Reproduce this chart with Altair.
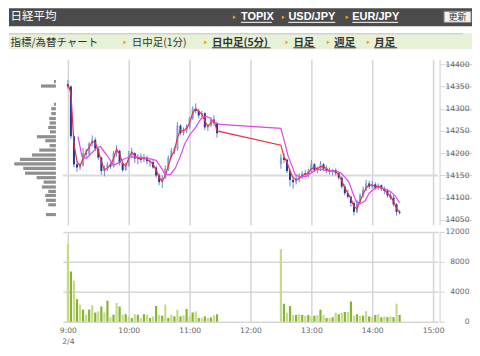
import altair as alt
import pandas as pd

# ---------------- data ----------------
# 3-minute candles, morning session 9:00-11:27 and afternoon 12:30-14:27
am_open = [14355, 14350, 14238, 14175, 14168, 14172, 14200, 14198, 14222, 14230,
           14210, 14190, 14160, 14165, 14175, 14170, 14200, 14205, 14178, 14162,
           14172, 14195, 14200, 14188, 14192, 14185, 14190, 14182, 14180, 14168,
           14150, 14135, 14145, 14165, 14190, 14205, 14210, 14262, 14245, 14250,
           14258, 14278, 14300, 14295, 14285, 14290, 14258, 14262, 14275, 14268]
am_high = [14365, 14352, 14240, 14182, 14178, 14212, 14210, 14225, 14240, 14235,
           14212, 14192, 14172, 14180, 14180, 14205, 14218, 14208, 14180, 14178,
           14205, 14212, 14202, 14198, 14200, 14198, 14195, 14188, 14185, 14172,
           14155, 14150, 14172, 14195, 14212, 14215, 14270, 14265, 14258, 14265,
           14282, 14305, 14312, 14300, 14295, 14292, 14265, 14280, 14285, 14270]
am_low = [14345, 14232, 14168, 14158, 14162, 14170, 14190, 14196, 14215, 14205,
          14185, 14152, 14148, 14160, 14165, 14168, 14192, 14172, 14158, 14160,
          14170, 14188, 14178, 14175, 14178, 14180, 14175, 14170, 14165, 14145,
          14128, 14122, 14142, 14160, 14188, 14198, 14205, 14240, 14240, 14245,
          14255, 14275, 14290, 14278, 14280, 14252, 14250, 14258, 14262, 14235]
am_close = [14350, 14238, 14175, 14168, 14172, 14200, 14198, 14222, 14230, 14210,
            14190, 14160, 14165, 14175, 14170, 14200, 14205, 14178, 14162, 14172,
            14195, 14200, 14188, 14192, 14185, 14190, 14182, 14180, 14168, 14150,
            14135, 14145, 14165, 14190, 14205, 14210, 14262, 14245, 14250, 14258,
            14278, 14300, 14295, 14285, 14290, 14258, 14262, 14275, 14268, 14245]

pm_open = [14175, 14190, 14185, 14160, 14140, 14135, 14145, 14148, 14155, 14152,
           14160, 14175, 14162, 14165, 14175, 14165, 14160, 14158, 14162, 14155,
           14145, 14125, 14110, 14102, 14088, 14068, 14090, 14105, 14118, 14132,
           14125, 14130, 14122, 14128, 14120, 14115, 14105, 14100, 14085, 14068]
pm_high = [14198, 14200, 14188, 14165, 14148, 14152, 14155, 14160, 14162, 14165,
           14185, 14178, 14170, 14182, 14178, 14172, 14168, 14165, 14166, 14158,
           14148, 14130, 14118, 14105, 14092, 14095, 14110, 14125, 14140, 14138,
           14138, 14135, 14132, 14130, 14125, 14120, 14112, 14105, 14088, 14072]
pm_low = [14165, 14178, 14155, 14125, 14120, 14130, 14135, 14142, 14148, 14145,
          14158, 14158, 14155, 14160, 14160, 14155, 14152, 14150, 14150, 14140,
          14120, 14105, 14098, 14080, 14060, 14065, 14088, 14100, 14115, 14120,
          14120, 14118, 14118, 14115, 14108, 14100, 14095, 14080, 14060, 14062]
pm_close = [14190, 14185, 14160, 14140, 14135, 14145, 14148, 14155, 14152, 14160,
            14175, 14162, 14165, 14175, 14165, 14160, 14158, 14162, 14155, 14145,
            14125, 14110, 14102, 14088, 14068, 14090, 14105, 14118, 14132, 14125,
            14130, 14122, 14128, 14120, 14115, 14105, 14100, 14085, 14068, 14066]

# short moving average (red), one value per candle
am_ma_short = [14355, 14336, 14220, 14182, 14171, 14188, 14203, 14213, 14226, 14224,
               14205, 14182, 14162, 14167, 14173, 14188, 14209, 14198, 14177, 14171,
               14188, 14203, 14194, 14188, 14188, 14190, 14186, 14182, 14175, 14162,
               14145, 14137, 14150, 14171, 14194, 14205, 14235, 14252, 14250, 14256,
               14268, 14290, 14300, 14294, 14288, 14273, 14260, 14268, 14275, 14250]
pm_ma_short = [14218, 14192, 14180, 14160, 14145, 14140, 14143, 14150, 14153, 14155,
               14165, 14168, 14165, 14170, 14170, 14165, 14160, 14160, 14158, 14152,
               14138, 14122, 14110, 14098, 14080, 14075, 14092, 14108, 14122, 14128,
               14128, 14126, 14125, 14123, 14118, 14110, 14103, 14092, 14075, 14068]

# long moving average (magenta)
ma_long_times = ["9:10", "9:14", "9:18", "9:22", "9:29", "9:32", "9:38", "9:45", "9:49",
                 "9:56", "10:04", "10:13", "10:20", "10:27", "10:31", "10:36", "10:41",
                 "10:46", "10:51", "10:55", "11:00", "11:06", "11:11", "11:16", "11:20",
                 "11:25", "11:30",
                 "12:30", "12:34", "12:37", "12:41", "12:44", "12:49", "12:55", "13:00",
                 "13:05", "13:11", "13:17", "13:24", "13:29", "13:33", "13:37", "13:41",
                 "13:44", "13:48", "13:53", "13:57", "14:02", "14:07", "14:12", "14:18",
                 "14:23", "14:27"]
ma_long = [14237, 14192, 14188, 14197, 14213, 14215, 14197, 14173, 14177,
           14188, 14192, 14190, 14188, 14184, 14171, 14152, 14152,
           14167, 14194, 14220, 14241, 14258, 14277, 14283, 14279,
           14268, 14265,
           14256, 14222, 14194, 14171, 14152, 14146, 14148, 14156,
           14163, 14163, 14160, 14160, 14156, 14146, 14135, 14110,
           14093, 14086, 14093, 14110, 14120, 14124, 14120, 14114,
           14103, 14088]

# volume per candle
am_volume = [10400, 6700, 5470, 3000, 2270, 1600, 930, 1600, 2200, 1240,
             1380, 2040, 1240, 2800, 600, 930, 2500, 2040, 930, 1000,
             710, 490, 1000, 930, 490, 1000, 930, 490, 710, 2100,
             930, 800, 2300, 490, 930, 710, 1600, 710, 850, 1700,
             710, 1240, 1380, 490, 490, 710, 490, 560, 850, 1000]
pm_volume = [9700, 2400, 1200, 2100, 900, 900, 1000, 900, 800, 900,
             700, 800, 900, 1600, 900, 500, 500, 600, 1200, 1000,
             1200, 1300, 1300, 2700, 800, 1000, 800, 800, 1400, 700,
             600, 900, 1000, 600, 700, 600, 700, 600, 2400, 900]

# volume-by-price profile (relative lengths)
profile_price = [14361, 14351, 14310, 14300, 14289, 14278, 14268, 14258, 14248, 14237,
                 14228, 14217, 14207, 14196, 14186, 14176, 14166, 14155, 14145, 14135,
                 14124, 14114, 14105, 14094, 14084, 14062]
profile_volume = [2, 15, 2, 4.7, 4.7, 6.7, 6.3, 7.7, 6, 19,
                  10.7, 6.3, 16.7, 24, 36, 41.7, 32.7, 31, 19.3, 12.3,
                  14, 7.7, 10.7, 10, 7.7, 10]

prev_close = 14150
price_ticks = [14050, 14100, 14150, 14200, 14250, 14300, 14350, 14400]
volume_ticks = [0, 4000, 8000, 12000]
hour_labels = ["9:00", "10:00", "11:00", "12:00", "13:00", "14:00", "15:00"]
date_label = "2/4"

# ---------------- helpers ----------------
def to_min(s):
    h, m = s.split(":")
    return (int(h) - 9) * 60 + int(m)

candle_times = [f"{9 + m // 60}:{m % 60:02d}" for m in list(range(0, 150, 3)) + list(range(210, 330, 3))]
t_candle = [to_min(s) for s in candle_times]
o = am_open + pm_open
h = am_high + pm_high
l = am_low + pm_low
c = am_close + pm_close
candles = pd.DataFrame({"t": t_candle, "o": o, "h": h, "l": l, "c": c,
                        "dir": ["up" if cc >= oo else "down" for oo, cc in zip(o, c)]})
ma_s = pd.DataFrame({"t": t_candle, "v": am_ma_short + pm_ma_short})
ma_l = pd.DataFrame({"t": [to_min(s) for s in ma_long_times], "v": ma_long})
vols = am_volume + pm_volume
vol_df = pd.DataFrame({"t": t_candle, "v": vols,
                       "shade": ["a" if i % 2 == 0 else "b" for i in range(len(vols))]})
prof_df = pd.DataFrame({"level": profile_price, "vol": profile_volume})
hour_vals = [to_min(s) for s in hour_labels]

GRID = "#d6d6d6"
W, HP, HV = 376, 166, 90
JP = "Noto Sans CJK JP"

SX = alt.Scale(domain=[0, 360], nice=False, zero=False)
SY = alt.Scale(domain=[14050, 14400], nice=False, zero=False)
AX_X_PRICE = alt.Axis(values=hour_vals, labels=False, ticks=False, domain=False, title=None, grid=True)
AX_Y_PRICE = alt.Axis(orient="right", values=price_ticks, title=None, grid=True, tickSize=5, format="d",
                      domain=True, domainColor="#cfcfcf", offset=1.5, labelAlign="right",
                      labelPadding=24.5, labelFlush=False)

x_enc = alt.X("t:Q", scale=SX, axis=AX_X_PRICE)

prev_rule = alt.Chart(pd.DataFrame({"p": [prev_close]})).mark_rule(color="#dadada", strokeWidth=2).encode(
    y=alt.Y("p:Q", scale=SY, axis=AX_Y_PRICE))
wicks = alt.Chart(candles).mark_rule(color="#6a8ad0", strokeWidth=1).encode(
    x=x_enc, y=alt.Y("l:Q", scale=SY, axis=AX_Y_PRICE), y2="h:Q")
bodies = alt.Chart(candles).mark_bar(size=2).encode(
    x=x_enc, y=alt.Y("o:Q", scale=SY, axis=AX_Y_PRICE), y2="c:Q",
    color=alt.Color("dir:N", scale=alt.Scale(domain=["up", "down"], range=["#7f9fdc", "#24358f"]), legend=None))
red_line = alt.Chart(ma_s).mark_line(color="#e8304a", strokeWidth=1.2).encode(
    x=x_enc, y=alt.Y("v:Q", scale=SY, axis=AX_Y_PRICE))
mag_line = alt.Chart(ma_l).mark_line(color="#e244ee", strokeWidth=1.2).encode(
    x=x_enc, y=alt.Y("v:Q", scale=SY, axis=AX_Y_PRICE))

price_inner = alt.layer(prev_rule, wicks, bodies, red_line, mag_line)

profile = alt.Chart(prof_df).mark_bar(orient="horizontal", size=3.2, color="#8f8f8f").encode(
    x=alt.X("vol:Q", scale=alt.Scale(domain=[0, 47], range=[-7, -54], nice=False, zero=True), axis=None),
    y=alt.Y("level:Q", scale=SY, axis=AX_Y_PRICE))

price = alt.layer(profile, price_inner).resolve_scale(x="independent").properties(width=W, height=HP)

label_expr = ("datum.value == 0 ? ['" + hour_labels[0] + "', '" + date_label + "'] : "
              "(9 + datum.value / 60) + ':00'")
volume = alt.Chart(vol_df).mark_bar(size=2.2).encode(
    x=alt.X("t:Q", scale=SX, axis=alt.Axis(values=hour_vals, labelExpr=label_expr, ticks=False, tickSize=0,
                                           domain=False, title=None, grid=True, labelPadding=5,
                                           labelFlush=False, labelLineHeight=10.6)),
    y=alt.Y("v:Q", scale=alt.Scale(domain=[0, 12000], nice=False),
            axis=alt.Axis(orient="right", values=volume_ticks, title=None, grid=True, tickSize=5, format="d",
                          domain=True, domainColor="#cfcfcf", offset=1.5, labelAlign="right",
                          labelPadding=24.5, labelFlush=False)),
    color=alt.Color("shade:N", scale=alt.Scale(domain=["a", "b"], range=["#c4dc8a", "#86b52a"]), legend=None),
).properties(width=W, height=HV)

# ---------------- header (decoration) ----------------
def rect(x1, x2, y1, y2, fill, stroke=None):
    kw = {"fill": fill}
    if stroke:
        kw.update(stroke=stroke, strokeWidth=1)
    return alt.Chart().mark_rect(**kw).encode(x=alt.value(x1), x2=alt.value(x2), y=alt.value(y1), y2=alt.value(y2))

def txt(s, x, y, size, color, weight="normal", font=JP, align="left"):
    return alt.Chart().mark_text(text=s, align=align, baseline="middle", fontSize=size, font=font,
                                 fontWeight=weight, color=color).encode(x=alt.value(x), y=alt.value(y))

def line(x1, x2, y, color):
    return alt.Chart().mark_rule(color=color, strokeWidth=1).encode(x=alt.value(x1), x2=alt.value(x2), y=alt.value(y))

def tri(x, y):
    return alt.Chart().mark_point(shape="triangle-right", filled=True, size=14, color="#f0a020", opacity=1).encode(
        x=alt.value(x), y=alt.value(y))

hdr = [
    rect(-54, 410, 0, 18, "#4b4b4b"),
    rect(-54, 410, 25, 41, "#e6f1d6"),
    line(-54, 401, 25.5, "#c4c4c4"),
    txt("日経平均", -52.5, 8.7, 11.5, "#ffffff"),
    tri(172, 9), txt("TOPIX", 178.5, 8.7, 11, "#ffffff", "bold", "Liberation Sans"), line(178.5, 209.5, 14, "#ffffff"),
    tri(221, 9), txt("USD/JPY", 226, 8.7, 11, "#ffffff", "bold", "Liberation Sans"), line(226, 273, 14, "#ffffff"),
    tri(285, 9), txt("EUR/JPY", 290, 8.7, 11, "#ffffff", "bold", "Liberation Sans"), line(290, 336, 14, "#ffffff"),
    rect(382, 409, 3, 14, "#f2f2f2", "#8a8a8a"),
    txt("更新", 395.5, 8.6, 9, "#333333", align="center"),
    txt("指標/為替チャート", -52.5, 34.3, 10.5, "#333333"),
    tri(62, 34), txt("日中足(1分)", 69, 34.3, 10.5, "#333333"),
    tri(143, 34), txt("日中足(5分)", 149.5, 34.3, 10.5, "#333333", "bold"), line(149.5, 208, 39.5, "#333333"),
    tri(224.5, 34), txt("日足", 231, 34.3, 10.5, "#333333", "bold"), line(231, 253, 39.5, "#333333"),
    tri(266, 34), txt("週足", 272, 34.3, 10.5, "#333333", "bold"), line(272, 294, 39.5, "#333333"),
    tri(306, 34), txt("月足", 312, 34.3, 10.5, "#333333", "bold"), line(312, 335, 39.5, "#333333"),
]
header = alt.layer(*hdr, data=pd.DataFrame({"d": [0]})).properties(width=W, height=44)

chart = alt.vconcat(header, price, volume, spacing=7, bounds="flush").resolve_scale(
    color="independent"
).properties(
    padding=0, background="#ffffff"
).configure_view(stroke=None).configure_axis(
    labelFont="DejaVu Sans", labelFontSize=7.6, labelColor="#666666",
    gridColor=GRID, gridWidth=1.5, tickColor=GRID
)

chart.save("out.html", embed_options={"renderer": "svg", "actions": False})
